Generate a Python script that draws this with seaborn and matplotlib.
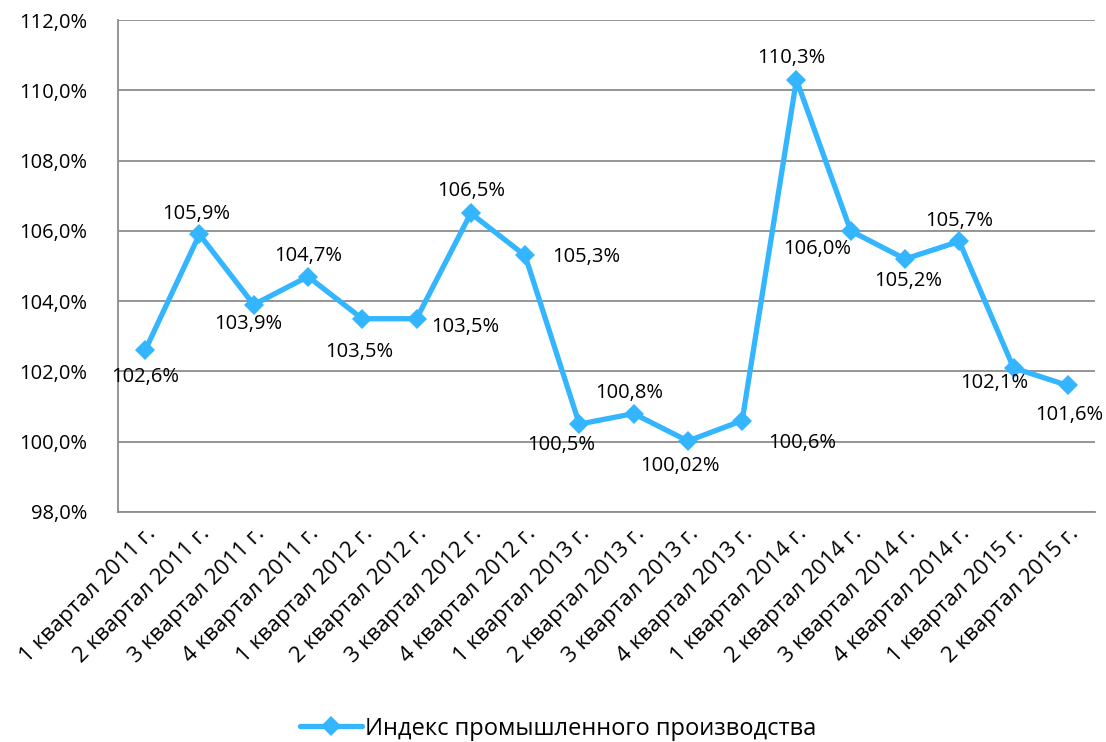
import numpy as np
import pandas as pd
import matplotlib
matplotlib.use("Agg")
import matplotlib.pyplot as plt
import seaborn as sns

quarters = [
    "1 квартал 2011 г.", "2 квартал 2011 г.", "3 квартал 2011 г.", "4 квартал 2011 г.",
    "1 квартал 2012 г.", "2 квартал 2012 г.", "3 квартал 2012 г.", "4 квартал 2012 г.",
    "1 квартал 2013 г.", "2 квартал 2013 г.", "3 квартал 2013 г.", "4 квартал 2013 г.",
    "1 квартал 2014 г.", "2 квартал 2014 г.", "3 квартал 2014 г.", "4 квартал 2014 г.",
    "1 квартал 2015 г.", "2 квартал 2015 г.",
]
index_values = [102.6, 105.9, 103.9, 104.7, 103.5, 103.5, 106.5, 105.3, 100.5,
                100.8, 100.02, 100.6, 110.3, 106.0, 105.2, 105.7, 102.1, 101.6]
series_name = "Индекс промышленного производства"
y_ticks = [98, 100, 102, 104, 106, 108, 110, 112]

# label offsets in points (dx, dy)
label_offsets = [(0, -19), (-2, 15), (-4, -14), (0, 15), (-2, -24), (35, -6),
                 (0, 16), (44, -1), (-13, -15), (-3, 15), (-6, -18), (43, -16),
                 (-4, 16), (-24, -13), (2, -16), (0, 15), (-14, -11), (1, -21)]

sns.set_theme(style="white")
plt.rcParams["font.family"] = ["Open Sans", "DejaVu Sans"]
plt.rcParams["text.color"] = "black"

df = pd.DataFrame({"quarter": quarters, "value": index_values})
df["x"] = np.arange(len(df))

fig = plt.figure(figsize=(11.06, 7.42), dpi=100)
ax = fig.add_axes([0.1067, 0.31, 0.8833, 0.663])

line_color = "#33B5FF"
sns.lineplot(data=df, x="x", y="value", ax=ax, color=line_color, lw=3.8,
             marker="D", markersize=10, markeredgewidth=0, label=series_name,
             legend=False)

fs = 14.5
for xi, v, (dx, dy) in zip(df["x"], df["value"], label_offsets):
    txt = f"{v:.2f}" if round(v, 1) != v else f"{v:.1f}"
    ax.annotate(txt.replace(".", ",") + "%", (xi, v), xytext=(dx, dy),
                textcoords="offset points", ha="center", va="center",
                fontsize=fs, color="black")

ax.set_xlim(-0.5, len(df) - 0.5)
ax.set_ylim(98, 112)
ax.set_yticks(y_ticks)
ax.set_yticklabels([f"{t:.1f}".replace(".", ",") + "%" for t in y_ticks],
                   fontsize=fs, color="black")
ax.set_xticks(df["x"])
ax.set_xticklabels(quarters, rotation=45, ha="right", rotation_mode="anchor",
                   fontsize=16, color="black")
ax.tick_params(axis="y", pad=22, length=0)
ax.tick_params(axis="x", pad=8, length=0)
ax.set_xlabel("")
ax.set_ylabel("")
ax.yaxis.grid(True, color="#8c8c8c", lw=1.3)
ax.set_axisbelow(True)
for side in ["top", "right"]:
    ax.spines[side].set_visible(False)
for side in ["left", "bottom"]:
    ax.spines[side].set_color("#8c8c8c")
    ax.spines[side].set_linewidth(1.3)

handles, labels = ax.get_legend_handles_labels()
fig.legend(handles, labels, loc="center", bbox_to_anchor=(0.505, 0.018),
           frameon=False, fontsize=17, handlelength=2.6, handletextpad=0.15)

fig.savefig("out.png", dpi=100)
